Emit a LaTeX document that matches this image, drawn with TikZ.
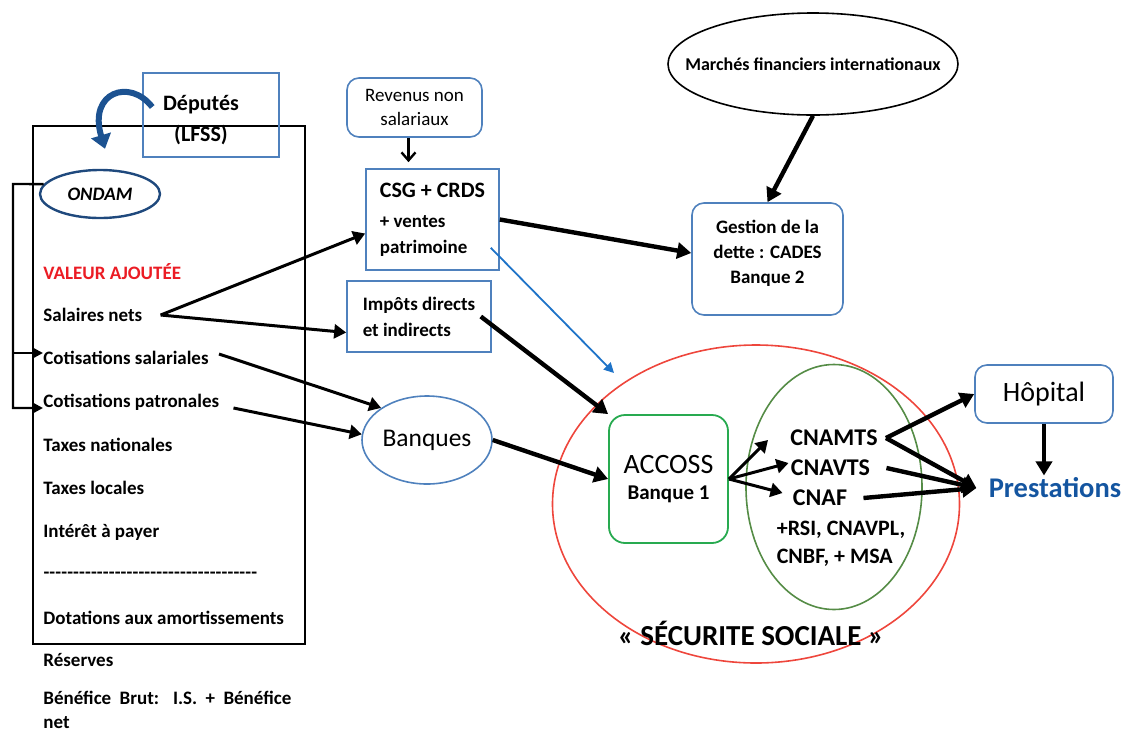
\documentclass[tikz,border=0pt]{standalone}
\usepackage{fontspec}
\setmainfont{Carlito}
\usetikzlibrary{shapes.geometric,arrows.meta}

\definecolor{boxblue}{RGB}{79,129,189}
\definecolor{ondamblue}{RGB}{31,73,125}
\definecolor{courbeblue}{RGB}{28,82,145}
\definecolor{valred}{RGB}{235,28,36}
\definecolor{secured}{RGB}{238,70,60}
\definecolor{caisvert}{RGB}{85,140,70}
\definecolor{accvert}{RGB}{40,170,80}
\definecolor{prestblue}{RGB}{20,85,160}
\definecolor{fineblue}{RGB}{30,115,200}

\begin{document}
\begin{tikzpicture}
[
	x=0.5pt,y=-0.5pt,
	txt/.style={anchor=west,inner sep=0pt,font=\bfseries\fontsize{9.5}{12}\selectfont},
	bx/.style={rectangle,draw=boxblue,line width=0.8pt,align=center,font=\bfseries\fontsize{9.5}{13}\selectfont},
	rbx/.style={bx,rounded corners=6pt},
	caisse/.style={inner sep=1pt,font=\bfseries\fontsize{12}{14}\selectfont},
	fleche/.style={line width=2.2pt,-{Triangle[length=7pt,width=8pt]}},
	flechefine/.style={line width=1.5pt,-{Triangle[length=6pt,width=7pt]}},
	crochet/.style={line width=1.2pt,-{Triangle[length=5pt,width=5pt]}}
]

\useasboundingbox (0,0) rectangle (1126,735);

\node[draw,line width=0.8pt,minimum width=136pt,minimum height=259pt] (compte) at (169,385) {};

\node[rectangle,draw=boxblue,line width=0.8pt,minimum width=68pt,minimum height=42pt] (deputes) at (211,115) {};
\node[align=center,font=\bfseries\fontsize{11}{15.5}\selectfont] (deputestxt) at (201,120) {Députés\\(LFSS)};

\node[ellipse,draw=ondamblue,line width=1.2pt,inner sep=0pt,minimum width=60pt,minimum height=24pt,font=\bfseries\itshape\fontsize{9.5}{12}\selectfont] (ondam) at (100,194) {ONDAM};

\node[txt,text=valred]	(valeur)	at (43,272) {VALEUR AJOUTÉE};
\node[txt]	(salnets)	at (43,315) {Salaires nets};
\node[txt]	(cotsal)	at (43,358) {Cotisations salariales};
\node[txt]	(cotpat)	at (43,402) {Cotisations patronales};
\node[txt]	(taxnat)	at (43,445) {Taxes nationales};
\node[txt]	(taxloc)	at (43,488) {Taxes locales};
\node[txt]	(interet)	at (43,532) {Intérêt à payer};
\node[txt]	(tirets)	at (43,575) {\makebox[107pt]{\xleaders\hbox{-}\hfill}};
\node[txt]	(dotations)	at (43,618) {Dotations aux amortissements};
\node[txt]	(reserves)	at (43,660) {Réserves};
\node[txt,align=left]	(benefice)	at (43,710) {\makebox[124pt][s]{Bénéfice Brut: I.S. + Bénéfice}\\net};

\node[rbx,minimum width=67.5pt,minimum height=29.5pt,font=\fontsize{9.5}{12}\selectfont] (revenus) at (414.5,107.5) {Revenus non\\salariaux};
\node[bx,minimum width=66.5pt,minimum height=50.5pt,align=left,font=\bfseries\fontsize{9.5}{13}\selectfont] (csg) at (432.5,219.5) {{\fontsize{11}{13}\selectfont CSG + CRDS}\\[2pt]+ ventes\\patrimoine};
\node[bx,minimum width=72pt,minimum height=35.5pt,align=left] (impots) at (419,316.5) {Impôts directs\\et indirects};
\node[ellipse,draw=boxblue,line width=0.8pt,inner sep=0pt,minimum width=65pt,minimum height=44pt,font=\fontsize{12.75}{15}\selectfont] (banques) at (427,440) {Banques};

\node[ellipse,draw,line width=0.8pt,inner sep=0pt,minimum width=145pt,minimum height=51pt,font=\bfseries\fontsize{9}{11}\selectfont] (marches) at (813,64) {\makebox[0pt]{Marchés financiers internationaux}};
\node[rbx,minimum width=75.5pt,minimum height=56pt,font=\bfseries\fontsize{9.5}{12.5}\selectfont] (gestion) at (767.5,259) {Gestion de la\\dette : CADES\\Banque 2\\[-5pt]};

\node[ellipse,draw=secured,line width=0.8pt,minimum width=203.5pt,minimum height=159pt] (secu) at (756,504) {};
\node[ellipse,draw=caisvert,line width=0.8pt,minimum width=88pt,minimum height=122.5pt] (caisses) at (834,487) {};
\node[rectangle,rounded corners=8pt,draw=accvert,line width=0.9pt,minimum width=59.5pt,minimum height=64pt,align=center] (accoss) at (668.5,479) {{\fontsize{14}{16}\selectfont ACCOSS}\\[1pt]{\bfseries\fontsize{10.5}{13}\selectfont Banque 1}};

\node[caisse]	(cnamts)	at (834,438) {CNAMTS};
\node[caisse]	(cnavts)	at (830.5,468) {CNAVTS};
\node[caisse]	(cnaf)	at (820,498) {CNAF};
\node[align=left,font=\bfseries\fontsize{11}{14}\selectfont] (autres) at (841,544) {+RSI, CNAVPL,\\CNBF, + MSA};
\node[font=\bfseries\fontsize{14.5}{17}\selectfont] (secutxt) at (751,633) {« SÉCURITE SOCIALE »};

\node[rbx,minimum width=69pt,minimum height=29pt,font=\fontsize{14}{16}\selectfont] (hopital) at (1044,394) {Hôpital};
\node[inner sep=1pt,text=prestblue,font=\bfseries\fontsize{14.25}{17}\selectfont] (prestations) at (1055,488) {Prestations};

\coordinate (coin) at (13,184);
\coordinate (pointe) at (614,373);

\draw[line width=3pt,courbeblue,-{Triangle[length=7pt,width=10pt]}] ([xshift=5pt,yshift=4pt]deputes.west) .. controls (130,78) and (88,92) .. ([xshift=2.5pt,yshift=10pt]ondam.north);

\draw[crochet]	(ondam.170)	--	(coin)	|-	([yshift=-3pt]cotpat.west);
\draw[crochet]	(coin)	|-	([yshift=2.5pt]cotsal.west);

\draw[flechefine]	([xshift=9pt]salnets.east)	--	([yshift=-7pt]csg.west);
\draw[flechefine]	([xshift=9pt]salnets.east)	--	([yshift=-8pt]impots.west);
\draw[flechefine]	([xshift=5pt,yshift=2pt]cotsal.east)	--	(banques.145);
\draw[flechefine]	([xshift=7pt,yshift=-3pt]cotpat.east)	--	(banques.175);

\draw[line width=1.2pt,-{Straight Barb[length=4pt,width=7pt]}]	([xshift=-3pt]revenus.south)	--	([xshift=-3pt,yshift=3pt]revenus.south |- csg.north);
\draw[line width=0.9pt,fineblue,-{Triangle[length=5pt,width=5pt]}]	([xshift=-4.5pt,yshift=11.5pt]csg.south east)	--	(pointe);

\draw[fleche]	(csg.east)	--	([yshift=3pt]gestion.west);
\draw[fleche]	(marches.south)	--	(gestion.north);
\draw[fleche]	([xshift=-5.5pt]impots.east)	--	(accoss.north west);
\draw[fleche]	(banques.east)	--	(accoss.west);

\draw[flechefine]	(accoss.east)	--	([xshift=-10pt,yshift=-1pt]cnamts.west);
\draw[flechefine]	(accoss.east)	--	([yshift=2.5pt]cnavts.west);
\draw[flechefine]	(accoss.east)	--	([xshift=-4pt,yshift=2.5pt]cnaf.west);

\draw[fleche]	([xshift=3pt]cnamts.east)	--	(hopital.west);
\draw[fleche]	([xshift=3pt]cnamts.east)	--	([xshift=-5pt]prestations.west);
\draw[fleche]	([xshift=7pt]cnavts.east)	--	([xshift=-5pt]prestations.west);
\draw[fleche]	([xshift=7pt]cnaf.east)	--	([xshift=-5pt]prestations.west);
\draw[fleche]	(hopital.south)	--	(hopital.south |- prestations.north);

\end{tikzpicture}
\end{document}
